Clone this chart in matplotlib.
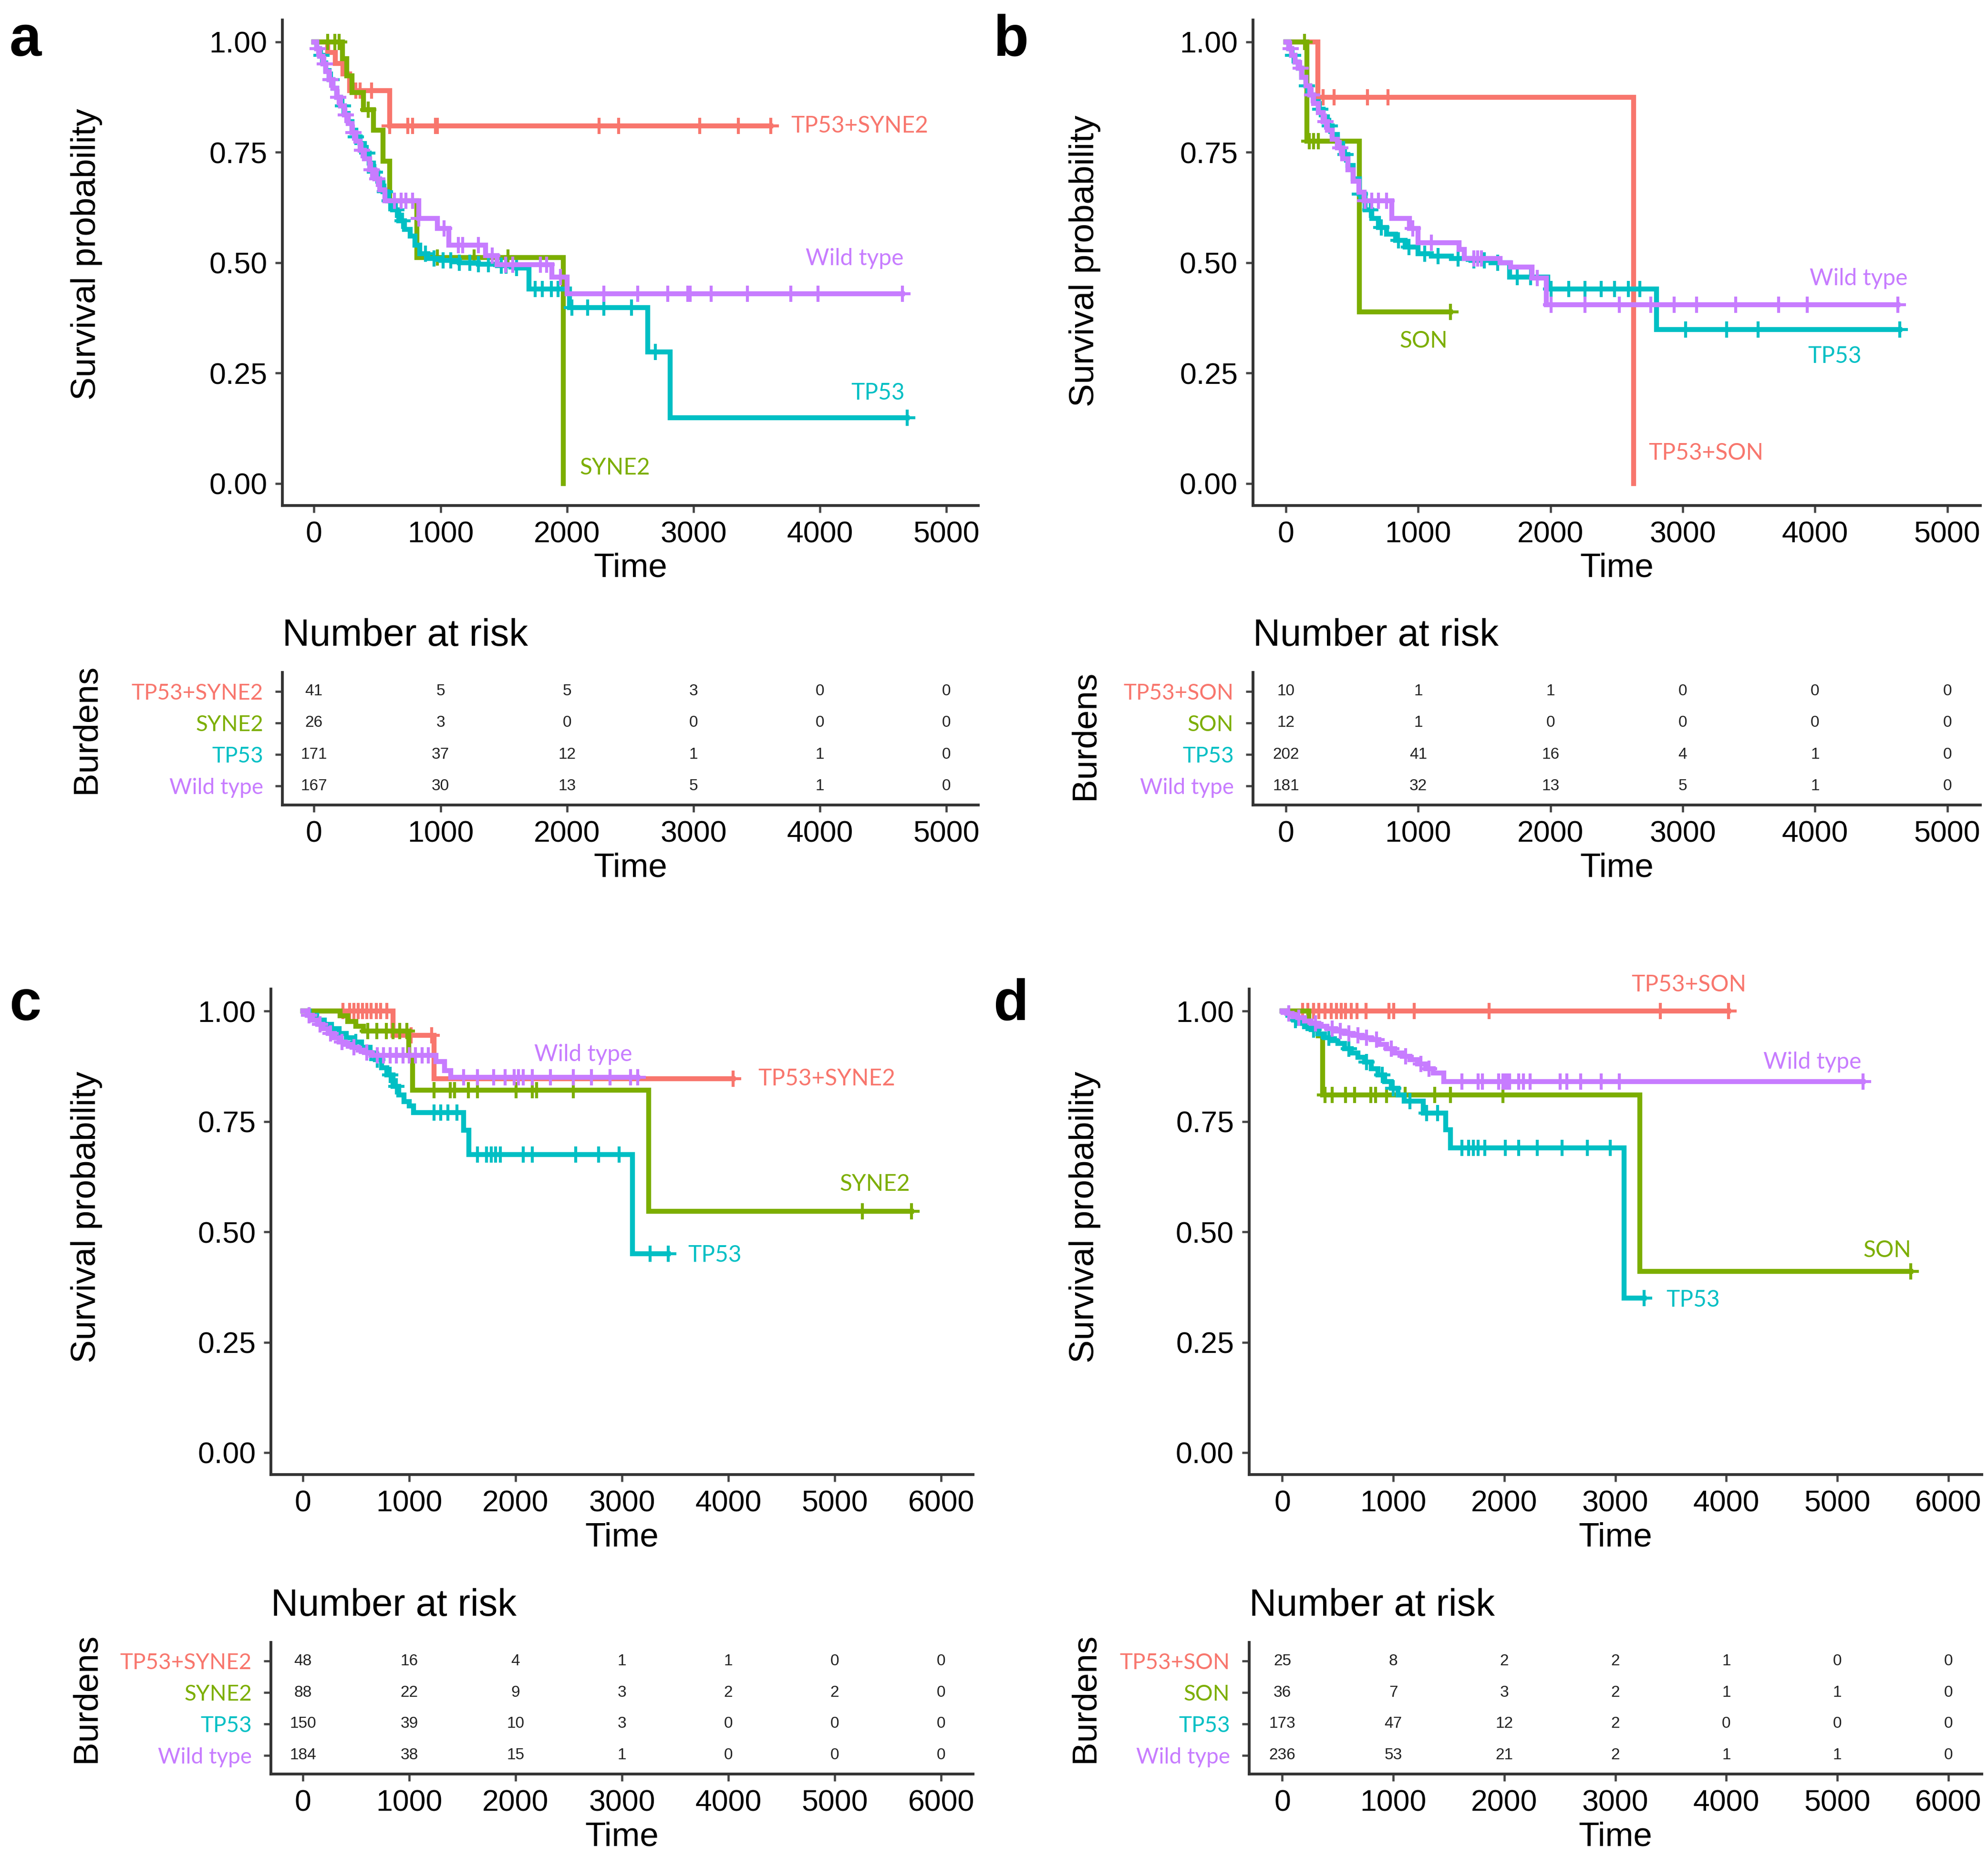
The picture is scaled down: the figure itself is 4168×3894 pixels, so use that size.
import numpy as np
import matplotlib.pyplot as plt

plt.rcParams['font.family'] = ['Liberation Sans', 'DejaVu Sans']

RED = '#F8766D'
GREEN = '#7CAE00'
CYAN = '#00BFC4'
PURPLE = '#C77CFF'
LABEL_FONT = ['Lato', 'DejaVu Sans']

# ---------------- panel a : TP53 / SYNE2 ----------------
a_double_time = [0, 110, 170, 230, 280, 600]
a_double_surv = [1.0, 0.976, 0.951, 0.927, 0.89, 0.81]
a_double_cens = [330, 365, 455, 600, 740, 780, 960, 975, 2255, 2410, 3050, 3355, 3610]

a_single_time = [0, 225, 260, 300, 390, 470, 545, 600, 815, 1970]
a_single_surv = [1.0, 0.962, 0.923, 0.885, 0.846, 0.80, 0.73, 0.64, 0.512, 0.0]
a_single_cens = [110, 165, 200, 430, 975, 1265, 1535]

a_tp53_time = [0, 20, 45, 70, 95, 120, 150, 180, 210, 240, 270, 300, 330, 365, 400, 435, 470,
               505, 545, 580, 620, 670, 715, 760, 800, 835, 900, 1000, 1150, 1300, 1450, 1600,
               1700, 2020, 2640, 2815]
a_tp53_surv = [1.0, 0.985, 0.97, 0.952, 0.935, 0.915, 0.895, 0.875, 0.855, 0.838, 0.82, 0.80,
               0.785, 0.77, 0.748, 0.725, 0.705, 0.685, 0.661, 0.64, 0.62, 0.595, 0.575, 0.56,
               0.54, 0.52, 0.51, 0.505, 0.50, 0.497, 0.493, 0.488, 0.44, 0.398, 0.298, 0.149]
a_tp53_cens = [60, 140, 230, 330, 420, 480, 560, 600, 650, 700, 880, 950, 1020, 1080, 1150,
               1230, 1300, 1380, 1480, 1520, 1600, 1750, 1805, 1875, 1930, 2040, 2165, 2290,
               2510, 2700, 4690]

a_wild_time = [0, 20, 45, 70, 95, 120, 150, 180, 210, 240, 270, 300, 330, 365, 400, 440, 480,
               520, 560, 830, 975, 1065, 1355, 1445, 1880, 2000]
a_wild_surv = [1.0, 0.985, 0.968, 0.95, 0.933, 0.915, 0.895, 0.875, 0.855, 0.835, 0.815, 0.795,
               0.775, 0.755, 0.735, 0.71, 0.69, 0.665, 0.64, 0.60, 0.578, 0.54, 0.516, 0.495,
               0.467, 0.429]
a_wild_cens = [30, 85, 130, 190, 250, 310, 380, 455, 500, 635, 690, 725, 780, 830, 1030, 1140,
               1175, 1300, 1410, 1515, 1570, 1790, 1840, 1950, 2290, 2560, 2795, 2955, 2975,
               3140, 3425, 3770, 3985, 4650]

a_risk_times = [0, 1000, 2000, 3000, 4000, 5000]
a_risk_double = [41, 5, 5, 3, 0, 0]
a_risk_single = [26, 3, 0, 0, 0, 0]
a_risk_tp53 = [171, 37, 12, 1, 1, 0]
a_risk_wild = [167, 30, 13, 5, 1, 0]

# ---------------- panel b : TP53 / SON ----------------
b_double_time = [0, 240, 2630]
b_double_surv = [1.0, 0.875, 0.0]
b_double_cens = [280, 365, 615, 770]

b_single_time = [0, 160, 555]
b_single_surv = [1.0, 0.775, 0.388]
b_single_cens = [140, 175, 210, 245, 1245]

b_tp53_time = [0, 20, 45, 70, 95, 120, 150, 180, 210, 245, 280, 315, 350, 390, 430, 470, 510,
               555, 600, 650, 700, 760, 830, 900, 1000, 1100, 1250, 1400, 1550, 1690, 1980, 2800]
b_tp53_surv = [1.0, 0.985, 0.97, 0.955, 0.94, 0.92, 0.90, 0.88, 0.865, 0.848, 0.83, 0.81, 0.79,
               0.77, 0.745, 0.72, 0.69, 0.655, 0.62, 0.60, 0.58, 0.565, 0.55, 0.535, 0.52, 0.515,
               0.51, 0.505, 0.50, 0.467, 0.44, 0.348]
b_tp53_cens = [55, 160, 260, 330, 450, 560, 640, 720, 850, 930, 1050, 1150, 1300, 1420, 1500,
               1600, 1750, 1850, 2005, 2140, 2260, 2385, 2485, 2590, 2675, 3020, 3330, 3570, 4640]

b_wild_time = [0, 20, 45, 70, 95, 120, 150, 180, 210, 245, 280, 315, 350, 390, 430, 470, 510,
               550, 590, 800, 935, 1000, 1310, 1350, 1620, 1700, 1860, 1970]
b_wild_surv = [1.0, 0.985, 0.97, 0.955, 0.94, 0.92, 0.90, 0.88, 0.86, 0.84, 0.82, 0.80, 0.78,
               0.76, 0.735, 0.71, 0.685, 0.66, 0.64, 0.60, 0.578, 0.545, 0.53, 0.51, 0.50, 0.49,
               0.465, 0.405]
b_wild_cens = [35, 110, 200, 300, 410, 600, 650, 700, 760, 960, 1100, 1420, 1450, 1480, 1900,
               2005, 2260, 2520, 2760, 2935, 3105, 3400, 3725, 3940, 4625]

b_risk_times = [0, 1000, 2000, 3000, 4000, 5000]
b_risk_double = [10, 1, 1, 0, 0, 0]
b_risk_single = [12, 1, 0, 0, 0, 0]
b_risk_tp53 = [202, 41, 16, 4, 1, 0]
b_risk_wild = [181, 32, 13, 5, 1, 0]

# ---------------- panel c : TP53 / SYNE2 ----------------
c_double_time = [0, 850, 1235]
c_double_surv = [1.0, 0.945, 0.847]
c_double_cens = [375, 440, 480, 520, 560, 600, 640, 690, 730, 790, 1020, 1210, 4045]

c_single_time = [0, 350, 420, 500, 570, 995, 1030, 3250]
c_single_surv = [1.0, 0.989, 0.977, 0.966, 0.955, 0.90, 0.821, 0.547]
c_single_cens = [612, 697, 783, 848, 912, 976, 1234, 1384, 1427, 1556, 1642, 2006, 2156, 2199,
                 2543, 5260, 5720]

c_tp53_time = [0, 60, 130, 200, 270, 340, 410, 480, 550, 610, 680, 740, 790, 850, 900, 950,
               1000, 1040, 1510, 1560, 3100]
c_tp53_surv = [1.0, 0.99, 0.98, 0.97, 0.96, 0.95, 0.94, 0.93, 0.918, 0.905, 0.89, 0.872, 0.855,
               0.83, 0.81, 0.795, 0.785, 0.77, 0.73, 0.675, 0.45]
c_tp53_cens = [500, 640, 700, 820, 880, 1234, 1298, 1363, 1449, 1642, 1728, 1771, 1813, 1856,
               2071, 2156, 2564, 2779, 2972, 3264, 3435]

c_wild_time = [0, 40, 90, 140, 190, 240, 290, 340, 400, 460, 520, 580, 640, 1250, 1330, 1390]
c_wild_surv = [1.0, 0.99, 0.98, 0.97, 0.96, 0.95, 0.94, 0.93, 0.925, 0.918, 0.912, 0.906, 0.90,
               0.886, 0.865, 0.85]
c_wild_cens = [60, 160, 260, 370, 480, 600, 700, 760, 820, 880, 940, 1000, 1060, 1120, 1180,
               1513, 1642, 1792, 1900, 1985, 2028, 2071, 2156, 2328, 2543, 2714, 2886, 3079, 3150]

c_risk_times = [0, 1000, 2000, 3000, 4000, 5000, 6000]
c_risk_double = [48, 16, 4, 1, 1, 0, 0]
c_risk_single = [88, 22, 9, 3, 2, 2, 0]
c_risk_tp53 = [150, 39, 10, 3, 0, 0, 0]
c_risk_wild = [184, 38, 15, 1, 0, 0, 0]

# ---------------- panel d : TP53 / SON ----------------
d_double_time = [0]
d_double_surv = [1.0]
d_double_cens = [181, 230, 283, 330, 386, 440, 489, 530, 571, 620, 674, 756, 961, 1002, 1187,
                 1864, 3405, 4021]

d_single_time = [0, 240, 325, 365, 3220]
d_single_surv = [1.0, 0.972, 0.944, 0.81, 0.41]
d_single_cens = [386, 448, 571, 653, 797, 838, 940, 1105, 1372, 1515, 1988, 5663]

d_tp53_time = [0, 50, 100, 150, 200, 260, 320, 380, 440, 500, 560, 620, 680, 740, 800, 860,
               920, 980, 1040, 1100, 1270, 1470, 1515, 3080]
d_tp53_surv = [1.0, 0.99, 0.98, 0.972, 0.965, 0.958, 0.948, 0.94, 0.933, 0.927, 0.915, 0.905,
               0.895, 0.885, 0.87, 0.855, 0.84, 0.825, 0.81, 0.796, 0.769, 0.731, 0.69, 0.35]
d_tp53_cens = [120, 280, 420, 600, 760, 900, 1000, 1150, 1300, 1400, 1618, 1680, 1721, 1762,
               1823, 2008, 2131, 2296, 2522, 2747, 2953, 3260]

d_wild_time = [0, 40, 90, 140, 200, 260, 330, 400, 480, 560, 640, 720, 800, 870, 940, 1010,
               1080, 1150, 1220, 1290, 1360, 1455]
d_wild_surv = [1.0, 0.995, 0.99, 0.985, 0.978, 0.972, 0.966, 0.96, 0.955, 0.95, 0.945, 0.94,
               0.935, 0.925, 0.915, 0.905, 0.898, 0.89, 0.88, 0.87, 0.86, 0.84]
d_wild_cens = [60, 150, 300, 450, 520, 600, 680, 760, 850, 980, 1110, 1250, 1320, 1618, 1762,
               1803, 1947, 1988, 2008, 2029, 2049, 2131, 2172, 2234, 2501, 2563, 2686, 2871,
               3035, 5232]

d_risk_times = [0, 1000, 2000, 3000, 4000, 5000, 6000]
d_risk_double = [25, 8, 2, 2, 1, 0, 0]
d_risk_single = [36, 7, 3, 2, 1, 1, 0]
d_risk_tp53 = [173, 47, 12, 2, 0, 0, 0]
d_risk_wild = [236, 53, 21, 2, 1, 1, 0]

# ---------------- figure ----------------
W, H = 1563.0, 1460.0  # layout measured on a reduced copy of the picture


def box(left, top, right, bottom):
    return [left / W, 1 - bottom / H, (right - left) / W, (bottom - top) / H]


def style_axis(ax):
    for side in ['top', 'right']:
        ax.spines[side].set_visible(False)
    for side in ['left', 'bottom']:
        ax.spines[side].set_linewidth(1.4)
        ax.spines[side].set_color('#333333')
    ax.tick_params(length=3.6, width=1.1, color='#444444', labelsize=15, pad=4)


def km_curve(ax, times, surv, cens, color):
    end = max(times[-1], max(cens))
    t = list(times) + [end]
    s = list(surv) + [surv[-1]]
    ax.step(t, s, where='post', color=color, lw=2.5, solid_joinstyle='miter')
    idx = np.searchsorted(times, cens, side='right') - 1
    cs = np.array(surv)[idx]
    ax.plot(cens, cs, ls='none', marker='+', ms=8, mew=1.5, color=color)


def panel(fig, letter, main_box, risk_box, xlim, xticks, curves, risk_rows, names, labels,
          letter_pos, ylab_x, surv_y, burd_y):
    ax = fig.add_axes(box(*main_box))
    for times, surv, cens, color in curves:
        km_curve(ax, times, surv, cens, color)
    for text, x, y, ha, color in labels:
        ax.text(x, y, text, ha=ha, va='center', color=color, fontsize=11.5,
                family=LABEL_FONT, clip_on=False)
    ax.set_xlim(*xlim)
    ax.set_ylim(-0.05, 1.05)
    ax.set_xticks(xticks)
    ax.set_yticks([0, 0.25, 0.5, 0.75, 1.0])
    ax.set_yticklabels(['0.00', '0.25', '0.50', '0.75', '1.00'])
    ax.set_xlabel('Time', fontsize=17, labelpad=2)
    style_axis(ax)

    rk = fig.add_axes(box(*risk_box))
    colors = [RED, GREEN, CYAN, PURPLE]
    for row, (vals, color) in enumerate(zip(risk_rows, colors)):
        ypos = 4 - row
        for t, v in zip(xticks, vals):
            rk.text(t, ypos, str(v), ha='center', va='center', fontsize=8, color='#222222')
    rk.set_xlim(*xlim)
    rk.set_ylim(0.4, 4.6)
    rk.set_xticks(xticks)
    rk.set_yticks([4, 3, 2, 1])
    rk.set_yticklabels(names, family=LABEL_FONT, fontsize=11)
    for tl, color in zip(rk.get_yticklabels(), colors):
        tl.set_color(color)
    rk.set_xlabel('Time', fontsize=17, labelpad=2)
    style_axis(rk)
    rk.tick_params(axis='y', labelsize=11, pad=6)
    rk.text(0, 1.14, 'Number at risk', transform=rk.transAxes, fontsize=19,
            ha='left', va='bottom')

    fig.text(ylab_x / W, 1 - surv_y / H, 'Survival probability', rotation=90,
             ha='center', va='center', fontsize=17.5)
    fig.text(ylab_x / W, 1 - burd_y / H, 'Burdens', rotation=90,
             ha='center', va='center', fontsize=17.5)
    fig.text(letter_pos[0] / W, 1 - letter_pos[1] / H, letter, fontsize=29,
             fontweight='bold', ha='center', va='center')


fig = plt.figure(figsize=(4168 / 300, 3894 / 300), dpi=300)

panel(fig, 'a', (222, 15.6, 769, 397.4), (222, 528.6, 769, 632.9), (-250, 5250),
      a_risk_times,
      [(a_double_time, a_double_surv, a_double_cens, RED),
       (a_single_time, a_single_surv, a_single_cens, GREEN),
       (a_tp53_time, a_tp53_surv, a_tp53_cens, CYAN),
       (a_wild_time, a_wild_surv, a_wild_cens, PURPLE)],
      [a_risk_double, a_risk_single, a_risk_tp53, a_risk_wild],
      ['TP53+SYNE2', 'SYNE2', 'TP53', 'Wild type'],
      [('TP53+SYNE2', 3770, 0.81, 'left', RED),
       ('Wild type', 4660, 0.51, 'right', PURPLE),
       ('TP53', 4670, 0.205, 'right', CYAN),
       ('SYNE2', 2100, 0.035, 'left', GREEN)],
      (20, 32), 68, 200, 573)

panel(fig, 'b', (985, 15.6, 1557, 397.4), (985, 528.6, 1557, 632.9), (-250, 5250),
      b_risk_times,
      [(b_double_time, b_double_surv, b_double_cens, RED),
       (b_single_time, b_single_surv, b_single_cens, GREEN),
       (b_tp53_time, b_tp53_surv, b_tp53_cens, CYAN),
       (b_wild_time, b_wild_surv, b_wild_cens, PURPLE)],
      [b_risk_double, b_risk_single, b_risk_tp53, b_risk_wild],
      ['TP53+SON', 'SON', 'TP53', 'Wild type'],
      [('TP53+SON', 2740, 0.069, 'left', RED),
       ('Wild type', 4700, 0.464, 'right', PURPLE),
       ('TP53', 4150, 0.288, 'center', CYAN),
       ('SON', 1040, 0.323, 'center', GREEN)],
      (795, 32), 853, 205, 578)

panel(fig, 'c', (213, 777.6, 765, 1159.4), (213, 1291.2, 765, 1394.8), (-300, 6300),
      c_risk_times,
      [(c_double_time, c_double_surv, c_double_cens, RED),
       (c_single_time, c_single_surv, c_single_cens, GREEN),
       (c_tp53_time, c_tp53_surv, c_tp53_cens, CYAN),
       (c_wild_time, c_wild_surv, c_wild_cens, PURPLE)],
      [c_risk_double, c_risk_single, c_risk_tp53, c_risk_wild],
      ['TP53+SYNE2', 'SYNE2', 'TP53', 'Wild type'],
      [('TP53+SYNE2', 4280, 0.847, 'left', RED),
       ('Wild type', 2175, 0.902, 'left', PURPLE),
       ('TP53', 3620, 0.447, 'left', CYAN),
       ('SYNE2', 5710, 0.608, 'right', GREEN)],
      (20, 790), 68, 957, 1335)

panel(fig, 'd', (982, 777.6, 1558, 1159.4), (982, 1291.2, 1558, 1394.8), (-300, 6300),
      d_risk_times,
      [(d_double_time, d_double_surv, d_double_cens, RED),
       (d_single_time, d_single_surv, d_single_cens, GREEN),
       (d_tp53_time, d_tp53_surv, d_tp53_cens, CYAN),
       (d_wild_time, d_wild_surv, d_wild_cens, PURPLE)],
      [d_risk_double, d_risk_single, d_risk_tp53, d_risk_wild],
      ['TP53+SON', 'SON', 'TP53', 'Wild type'],
      [('TP53+SON', 3660, 1.06, 'center', RED),
       ('Wild type', 4775, 0.885, 'center', PURPLE),
       ('TP53', 3460, 0.346, 'left', CYAN),
       ('SON', 5450, 0.458, 'center', GREEN)],
      (795, 790), 853, 957, 1335)

fig.savefig('out.png', dpi=300, facecolor='white')
